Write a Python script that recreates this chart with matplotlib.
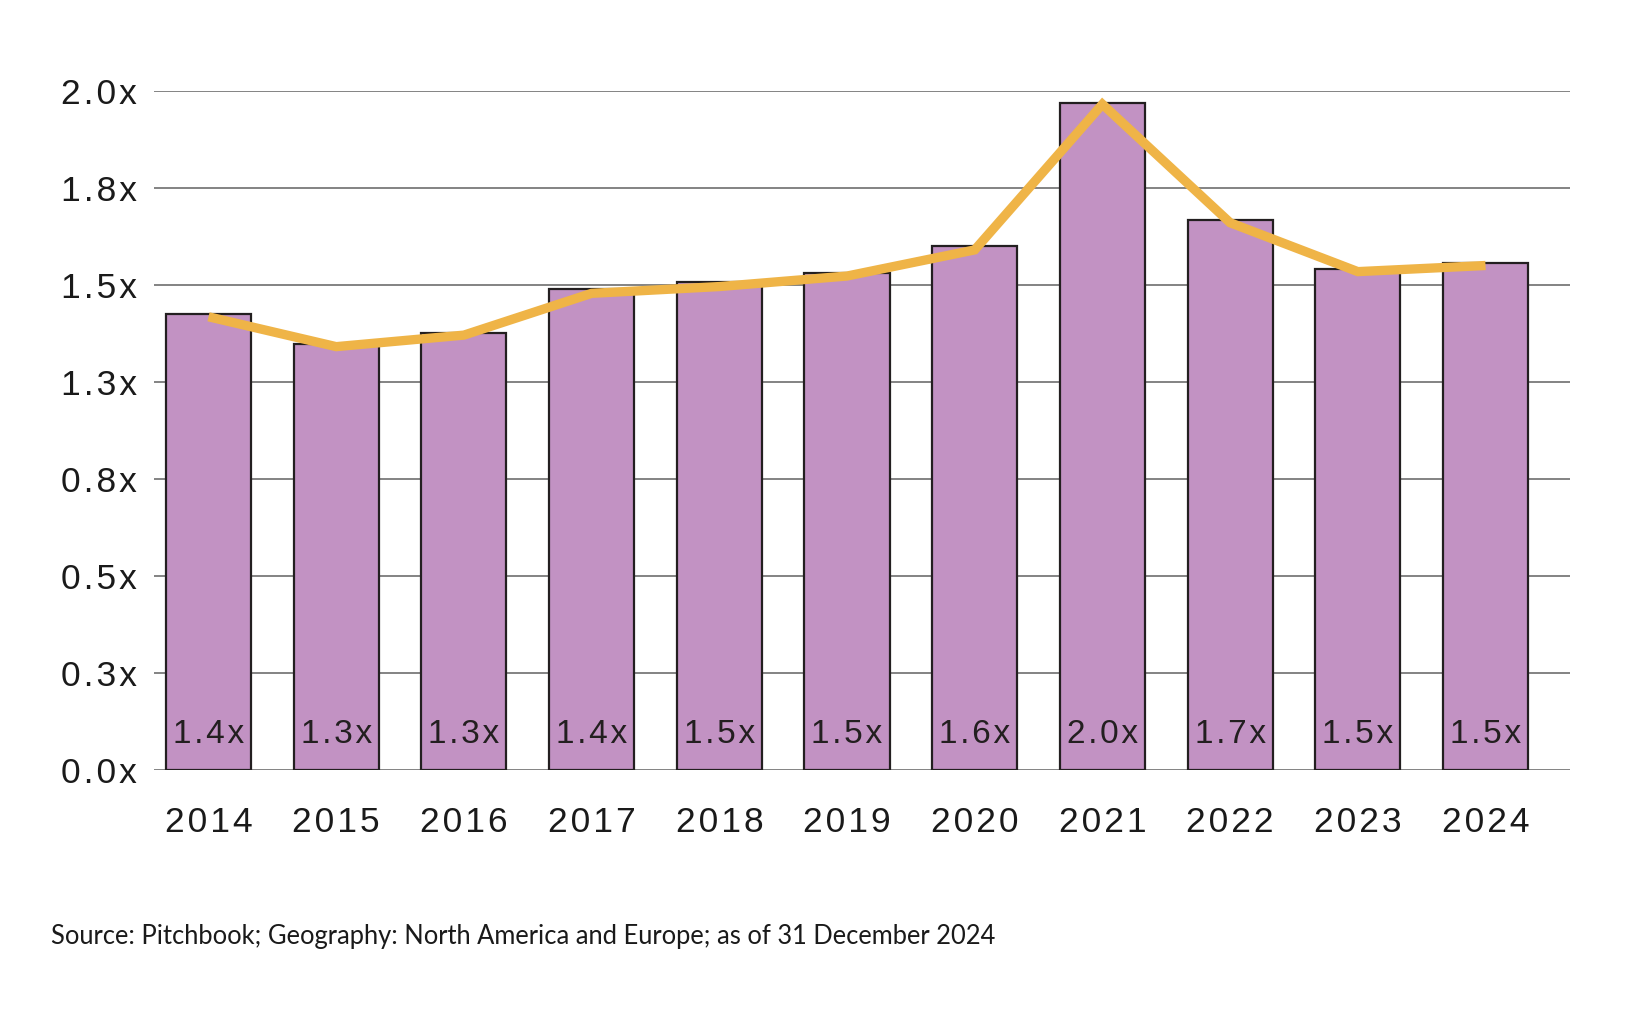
import matplotlib

matplotlib.use("Agg")
import matplotlib.pyplot as plt  # noqa: E402

# Dados
anos = ["2014", "2015", "2016", "2017", "2018", "2019",
        "2020", "2021", "2022", "2023", "2024"]
barras = [1.341, 1.254, 1.285, 1.415, 1.436, 1.462,
          1.543, 1.965, 1.620, 1.476, 1.492]
linha = [1.334, 1.246, 1.280, 1.403, 1.423, 1.454,
         1.531, 1.960, 1.611, 1.467, 1.485]
rotulos = ["1.4x", "1.3x", "1.3x", "1.4x", "1.5x", "1.5x",
           "1.6x", "2.0x", "1.7x", "1.5x", "1.5x"]
ticks_y = [0.0, 2 / 7, 4 / 7, 6 / 7, 8 / 7, 10 / 7, 12 / 7, 2.0]
ticks_y_txt = ["0.0x", "0.3x", "0.5x", "0.8x", "1.3x", "1.5x", "1.8x", "2.0x"]
fonte = "Source: Pitchbook; Geography: North America and Europe; as of 31 December 2024"

ROXO = "#C292C3"
BORDA = "#231F20"
AMARELO = "#EFB447"
GRADE = "#6E6E6E"
HAIR = "\u200a"  # espaçamento entre letras, como no original

plt.rcParams["font.family"] = ["Liberation Sans", "DejaVu Sans"]


def espacar(s):
    return HAIR.join(s)


fig = plt.figure(figsize=(16.28, 10.13), dpi=100, facecolor="white")
ax = fig.add_axes([0.0946, 0.2402, 0.8698, 0.6703])

x = list(range(len(anos)))
ax.bar(x, barras, width=0.666, color=ROXO, edgecolor=BORDA,
       linewidth=1.6, zorder=3)
ax.plot(x, linha, color=AMARELO, linewidth=6.7, solid_joinstyle="miter",
        solid_capstyle="butt", zorder=4)

for xi, txt in zip(x, rotulos):
    ax.text(xi, 0.078, espacar(txt), ha="center", va="baseline", fontsize=24,
            color=BORDA, zorder=5)

ax.set_xlim(-0.427, len(anos) - 1 + 0.662)
ax.set_ylim(0, 2.0)
ax.set_yticks(ticks_y)
ax.set_yticklabels([espacar(t) for t in ticks_y_txt])
ax.set_xticks(x)
ax.set_xticklabels([espacar(a) for a in anos])
ax.tick_params(axis="y", length=0, pad=12, labelsize=25.5, labelcolor="#1a1a1a")
ax.tick_params(axis="x", length=0, pad=26, labelsize=25.5, labelcolor="#1a1a1a")
ax.grid(axis="y", color=GRADE, linewidth=1.2, zorder=0)
for s in ax.spines.values():
    s.set_visible(False)

fig.text(51 / 1628, 1 - 944 / 1013, fonte, ha="left", va="baseline",
         fontsize=18.4, family=["Lato", "DejaVu Sans"], color="#1a1a1a")

fig.savefig("out.png", dpi=100, facecolor="white")
plt.close(fig)
